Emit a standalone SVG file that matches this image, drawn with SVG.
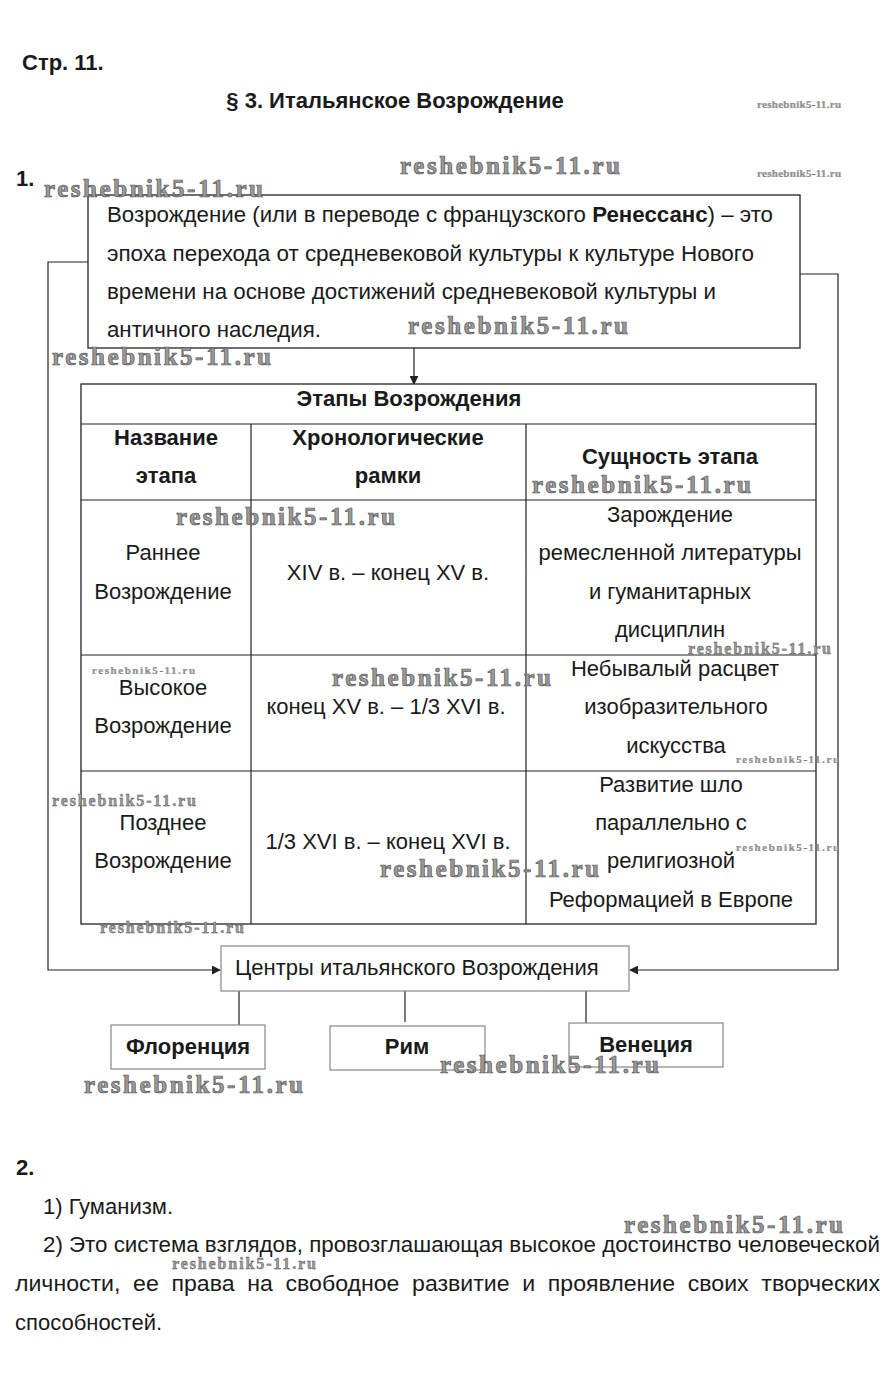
<svg xmlns="http://www.w3.org/2000/svg" width="895" height="1384" viewBox="0 0 895 1384">
<style>
text{font-family:"Liberation Sans",Arial,sans-serif;fill:#1a1a1a}
.t{font-size:22px}
.b{font-size:22px;font-weight:bold}
.c{text-anchor:middle}
.box{fill:#fff;stroke:#222;stroke-width:1.3}
.lbox{fill:#fff;stroke:#888;stroke-width:1.2}
.ln{fill:none;stroke:#222;stroke-width:1.2}
.wm{font-family:"Liberation Serif","DejaVu Serif",serif;font-weight:bold;fill:#9a9a9a;stroke:#555;stroke-width:0.7}
.wl{font-size:25px}
.wms{font-size:16px;stroke-width:0.4}
.wmx{font-size:11px;stroke-width:0.2}
</style>
<defs>
<marker id="ah" viewBox="0 0 10 10" refX="9" refY="5" markerWidth="9" markerHeight="9" markerUnits="userSpaceOnUse" orient="auto">
<path d="M0,0 L10,5 L0,10 z" fill="#222"/>
</marker>
</defs>
<rect width="895" height="1384" fill="#fff"/>

<text class="b" x="22" y="70">Стр. 11.</text>
<text class="b c" x="395" y="108">§ 3. Итальянское Возрождение</text>
<text class="b" x="16" y="186">1.</text>

<g id="connectors">
<polyline class="ln" points="88,262 48,262 48,970 220,970" marker-end="url(#ah)"/>
<polyline class="ln" points="800,274 838,274 838,970 630,970" marker-end="url(#ah)"/>
<line class="ln" x1="414" y1="348" x2="414" y2="384" marker-end="url(#ah)"/>
<line class="ln" x1="239" y1="991" x2="239" y2="1025"/>
<line class="ln" x1="405" y1="991" x2="405" y2="1022"/>
<line class="ln" x1="586" y1="991" x2="586" y2="1023"/>
</g>

<g id="definition">
<rect class="box" x="88" y="195" width="712" height="153"/>
<text class="t" x="107" y="222" textLength="666" lengthAdjust="spacingAndGlyphs">Возрождение (или в переводе с французского <tspan font-weight="bold">Ренессанс</tspan>) – это</text>
<text class="t" x="107" y="261" textLength="647" lengthAdjust="spacingAndGlyphs">эпоха перехода от средневековой культуры к культуре Нового</text>
<text class="t" x="107" y="299" textLength="609" lengthAdjust="spacingAndGlyphs">времени на основе достижений средневековой культуры и</text>
<text class="t" x="107" y="337" textLength="214" lengthAdjust="spacingAndGlyphs">античного наследия.</text>
</g>

<g id="table">
<rect class="box" x="81" y="384" width="735" height="540" stroke="#333"/>
<line class="ln" x1="81" y1="424" x2="816" y2="424"/>
<line class="ln" x1="81" y1="500" x2="816" y2="500" stroke="#666"/>
<line class="ln" x1="81" y1="655" x2="816" y2="655" stroke="#666"/>
<line class="ln" x1="81" y1="771" x2="816" y2="771" stroke="#666"/>
<line class="ln" x1="251" y1="424" x2="251" y2="924"/>
<line class="ln" x1="526" y1="424" x2="526" y2="924"/>
<text class="b c" x="409" y="406">Этапы Возрождения</text>
<text class="b c" x="166" y="445">Название</text>
<text class="b c" x="166" y="483">этапа</text>
<text class="b c" x="388" y="445">Хронологические</text>
<text class="b c" x="388" y="483">рамки</text>
<text class="b c" x="670" y="464">Сущность этапа</text>

<text class="t c" x="163" y="560">Раннее</text>
<text class="t c" x="163" y="599">Возрождение</text>
<text class="t c" x="388" y="580">XIV в. – конец XV в.</text>
<text class="t c" x="670" y="522">Зарождение</text>
<text class="t c" x="670" y="560">ремесленной литературы</text>
<text class="t c" x="670" y="599">и гуманитарных</text>
<text class="t c" x="670" y="637">дисциплин</text>

<text class="t c" x="163" y="695">Высокое</text>
<text class="t c" x="163" y="733">Возрождение</text>
<text class="t c" x="386" y="714">конец XV в. – 1/3 XVI в.</text>
<text class="t c" x="675" y="676">Небывалый расцвет</text>
<text class="t c" x="676" y="714">изобразительного</text>
<text class="t c" x="676" y="753">искусства</text>

<text class="t c" x="163" y="830">Позднее</text>
<text class="t c" x="163" y="868">Возрождение</text>
<text class="t c" x="388" y="849">1/3 XVI в. – конец XVI в.</text>
<text class="t c" x="671" y="792">Развитие шло</text>
<text class="t c" x="671" y="830">параллельно с</text>
<text class="t c" x="671" y="868">религиозной</text>
<text class="t c" x="671" y="907">Реформацией в Европе</text>
</g>

<g id="centers">
<rect class="lbox" x="221" y="946" width="408" height="45"/>
<text class="t" x="235" y="975">Центры итальянского Возрождения</text>
</g>
<g id="florence">
<rect class="lbox" x="111" y="1025" width="154" height="44"/>
<text class="b c" x="188" y="1054">Флоренция</text>
</g>
<g id="rome">
<rect class="lbox" x="330" y="1026" width="155" height="44"/>
<text class="b c" x="407" y="1054">Рим</text>
</g>
<g id="venice">
<rect class="lbox" x="569" y="1023" width="154" height="44"/>
<text class="b c" x="646" y="1052">Венеция</text>
</g>

<text class="b" x="16" y="1175">2.</text>
<text class="t" x="43" y="1214">1) Гуманизм.</text>
<text class="t" x="43" y="1252" textLength="837" lengthAdjust="spacingAndGlyphs">2) Это система взглядов, провозглашающая высокое достоинство человеческой</text>
<text class="t" x="15" y="1291" textLength="865" lengthAdjust="spacingAndGlyphs" word-spacing="6">личности, ее права на свободное развитие и проявление своих творческих</text>
<text class="t" x="15" y="1330">способностей.</text>

<g id="watermarks">
<text class="wm wmx" x="757" y="108" textLength="84">reshebnik5-11.ru</text>
<text class="wm wmx" x="757" y="177" textLength="84">reshebnik5-11.ru</text>
<text class="wm wl" x="400" y="174" textLength="220">reshebnik5-11.ru</text>
<text class="wm wl" x="44" y="197" textLength="219">reshebnik5-11.ru</text>
<text class="wm wl" x="408" y="334" textLength="220">reshebnik5-11.ru</text>
<text class="wm wl" x="52" y="365" textLength="219">reshebnik5-11.ru</text>
<text class="wm wl" x="532" y="493" textLength="219">reshebnik5-11.ru</text>
<text class="wm wl" x="176" y="525" textLength="219">reshebnik5-11.ru</text>
<text class="wm wms" x="688" y="654" textLength="143">reshebnik5-11.ru</text>
<text class="wm wmx" x="92" y="674" textLength="103">reshebnik5-11.ru</text>
<text class="wm wl" x="332" y="686" textLength="219">reshebnik5-11.ru</text>
<text class="wm wmx" x="736" y="763" textLength="103">reshebnik5-11.ru</text>
<text class="wm wms" x="52" y="806" textLength="144">reshebnik5-11.ru</text>
<text class="wm wmx" x="736" y="851" textLength="103">reshebnik5-11.ru</text>
<text class="wm wl" x="380" y="877" textLength="219">reshebnik5-11.ru</text>
<text class="wm wms" x="100" y="933" textLength="144">reshebnik5-11.ru</text>
<text class="wm wl" x="440" y="1073" textLength="219">reshebnik5-11.ru</text>
<text class="wm wl" x="84" y="1093" textLength="219">reshebnik5-11.ru</text>
<text class="wm wl" x="624" y="1233" textLength="219">reshebnik5-11.ru</text>
<text class="wm wms" x="172" y="1269" textLength="144">reshebnik5-11.ru</text>
</g>
</svg>
